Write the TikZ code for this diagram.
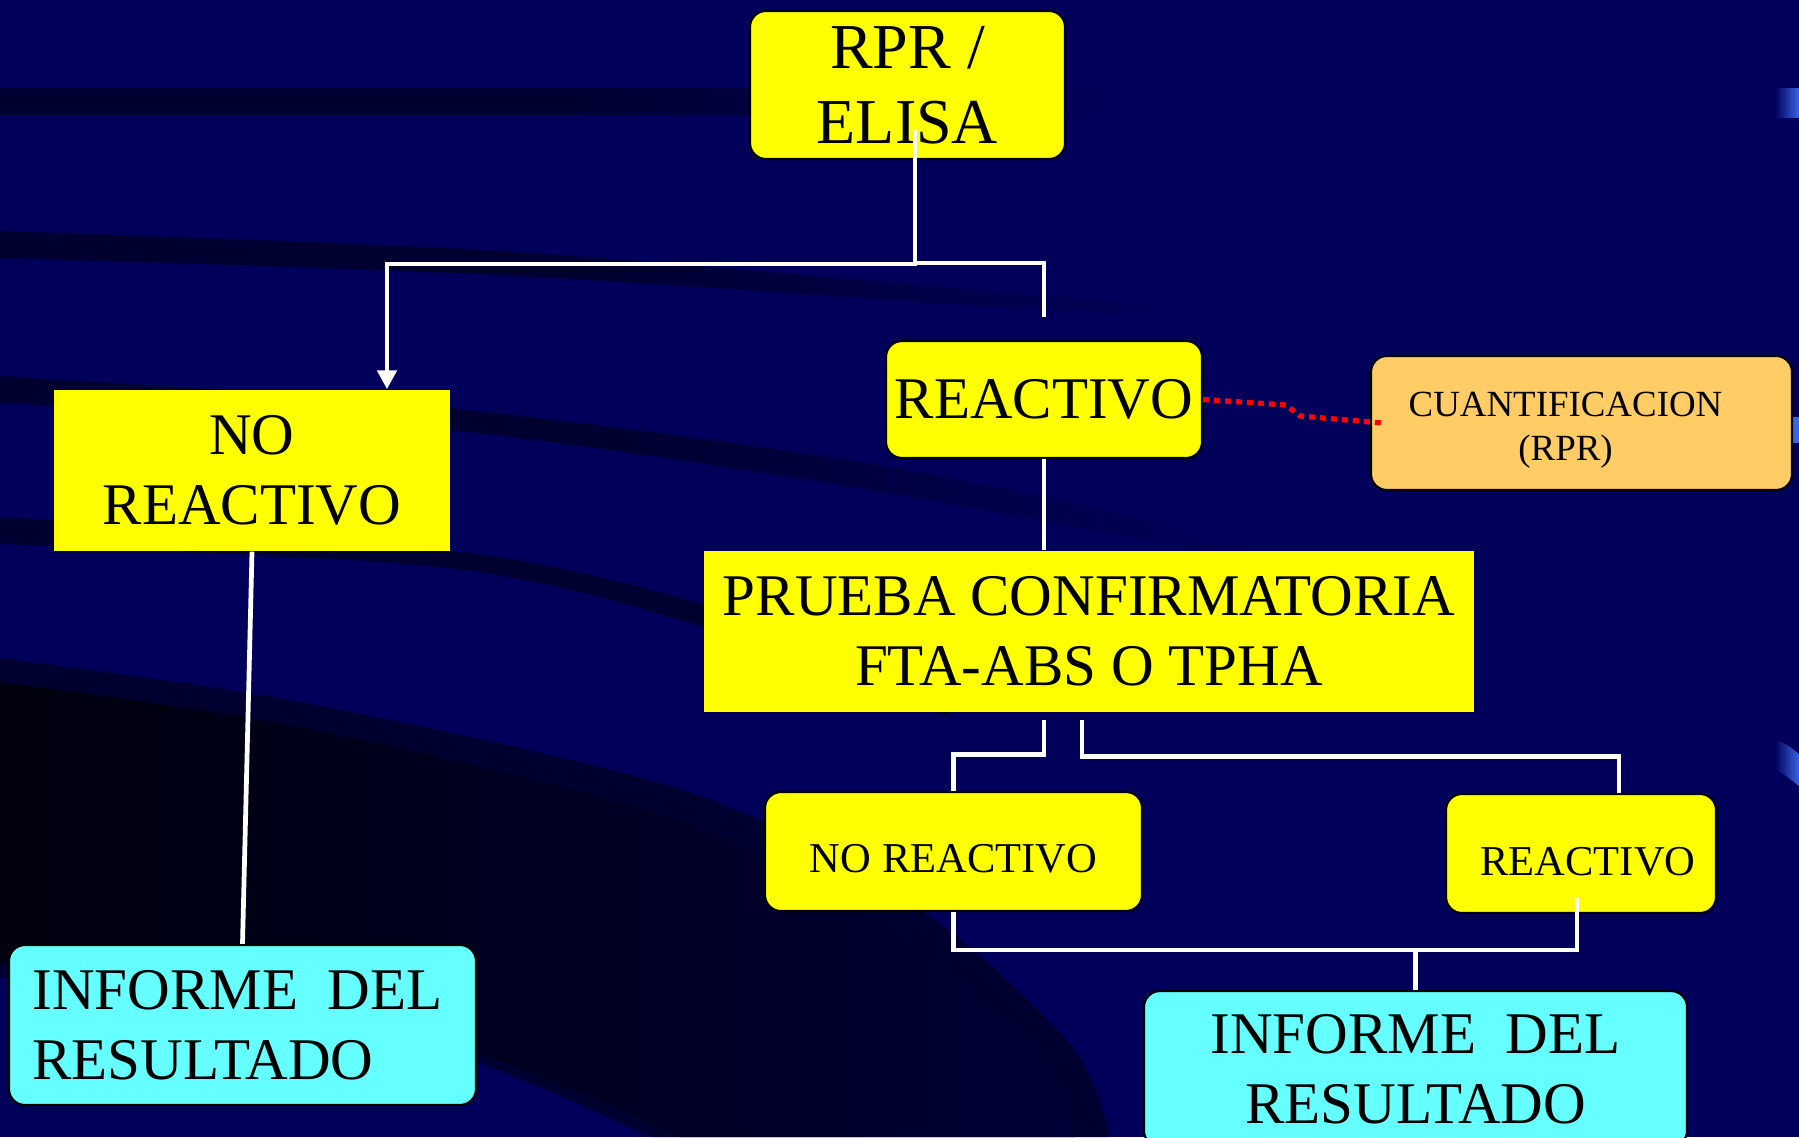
\documentclass[tikz,border=0pt]{standalone}
\usepackage{fontspec}
\setmainfont{Liberation Serif}
\usetikzlibrary{arrows.meta, positioning, calc}
\definecolor{slideBg}{RGB}{0, 0, 90}
\definecolor{slideBand}{RGB}{0, 0, 48}
\definecolor{slideDeep}{RGB}{0, 0, 30}
\definecolor{slideBlue}{RGB}{60, 100, 230}
\definecolor{boxYellow}{RGB}{255, 255, 0}
\definecolor{boxCyan}{RGB}{102, 255, 255}
\definecolor{boxOrange}{RGB}{255, 204, 102}
\newcommand{\slideRpr}{\fontsize{18.2}{21.3}\selectfont}
\newcommand{\slideBig}{\fontsize{16.8}{19.9}\selectfont}
\newcommand{\slideSmall}{\fontsize{12.1}{14}\selectfont}
\newcommand{\slideCuant}{\fontsize{10.5}{12.6}\selectfont}

\begin{document}
\begin{tikzpicture}[
        slidebox/.style={inner sep=0pt, align=center, text=black},
        roundbox/.style={slidebox, draw=black, line width=0.6pt, rounded corners=0.16cm},
        flowline/.style={draw=white, line width=1.35pt},
        cuantline/.style={draw=red, line width=1.5pt, dash pattern=on 0.06cm off 0.05cm}
    ]
        \useasboundingbox (0,0) rectangle (17.99,11.37);
        \clip (0,0) rectangle (17.99,11.37);

        % Slide background
        \fill[slideBg] (0,0) rectangle (17.99,11.37);
        \shade[left color=slideBand, right color=slideBg, middle color=slideBand]
            (0,10.22) rectangle (11.5,10.48);
        \shade[left color=slideBand, right color=slideBg, middle color=slideBand]
            plot[smooth] coordinates {(0,9.06) (5,8.86) (10,8.45) (12,8.3)}
            -- plot[smooth] coordinates {(12,8.2) (10,8.3) (5,8.62) (0,8.79)} -- cycle;
        \shade[left color=slideBand, right color=slideBg, middle color=slideBand]
            plot[smooth] coordinates {(0,7.61) (4.49,7.29) (8.84,6.71) (12.5,5.95)}
            -- plot[smooth] coordinates {(12.5,5.75) (8.84,6.45) (4.49,7.07) (0,7.34)} -- cycle;
        \fill[slideBand]
            plot[smooth] coordinates {(0,6.20) (4.49,5.87) (7.01,5.33) (9.5,4.4)}
            -- plot[smooth] coordinates {(9.5,4.2) (7.01,5.11) (4.49,5.69) (0,5.93)} -- cycle;
        \fill[slideBand]
            plot[smooth] coordinates {(0,4.79) (3.06,4.34) (6.89,3.45) (9.18,2.29) (10.71,0.92) (11.10,0)}
            -- plot[smooth] coordinates {(6.5,0) (4,1.0) (0,1.6)} -- cycle;
        \shade[left color=slideDeep!45!black, right color=slideDeep!60!slideBg]
            plot[smooth] coordinates {(0,4.55) (3.0,4.1) (6.7,3.2) (8.9,2.1) (10.4,0.8) (10.75,0)}
            -- plot[smooth] coordinates {(6.8,0) (4,1.1) (0,1.75)} -- cycle;
        \shade[left color=slideBg, right color=slideBlue] (17.75,10.19) rectangle (17.99,10.48);
        \fill[slideBlue] (17.9,6.94) rectangle (17.99,7.20);
        \shade[left color=slideBg, right color=slideBlue]
            (17.75,3.97) .. controls (17.85,3.94) .. (17.99,3.83) -- (17.99,3.51)
            .. controls (17.85,3.62) .. (17.75,3.68) -- cycle;

        % Boxes
        \node[roundbox, font=\slideRpr, fill=boxYellow, minimum width=3.15cm, minimum height=1.48cm]
            (rpr) at (9.075,10.52) {RPR /\\ELISA};
        \node[slidebox, font=\slideBig, fill=boxYellow, minimum width=3.96cm, minimum height=1.61cm]
            (noreac) at (2.52,6.665) {NO\\REACTIVO};
        \node[roundbox, font=\slideBig, fill=boxYellow, minimum width=3.16cm, minimum height=1.17cm]
            (reac) at (10.44,7.375) {REACTIVO};
        \node[roundbox, font=\slideCuant, fill=boxOrange, minimum width=4.21cm, minimum height=1.34cm,
            text height=0.82cm, text depth=0.07cm]
            (cuant) at (15.815,7.14) {CUANTIFICACION\hspace*{0.32cm}\\(RPR)\hspace*{0.32cm}};
        \node[slidebox, font=\slideBig, fill=boxYellow, minimum width=7.70cm, minimum height=1.61cm]
            (prueba) at (10.89,5.055) {PRUEBA CONFIRMATORIA\\FTA-ABS O TPHA};
        \node[roundbox, font=\slideSmall, fill=boxYellow, minimum width=3.77cm, minimum height=1.19cm, text height=0.42cm]
            (noreac2) at (9.535,2.855) {NO REACTIVO};
        \node[roundbox, font=\slideSmall, fill=boxYellow, minimum width=2.70cm, minimum height=1.19cm, text height=0.45cm]
            (reac2) at (15.81,2.835) {\hspace*{0.14cm}REACTIVO};
        \node[roundbox, font=\slideBig, fill=boxCyan, align=left, minimum width=4.67cm, minimum height=1.60cm]
            (inf1) at (2.425,1.12) {INFORME\ \ DEL\hspace*{0.1cm}\\RESULTADO};
        \node[roundbox, font=\slideBig, fill=boxCyan, minimum width=5.43cm, inner ysep=0.23cm, anchor=north]
            (inf2) at (14.155,1.47) {INFORME\ \ DEL\\RESULTADO};

        % First split
        \draw[flowline, -{Triangle[width=0.19cm, length=0.19cm]}]
            ([xshift=0.075cm, yshift=0.31cm]rpr.south) -- ++(0,-1.35) -| ([xshift=1.35cm]noreac.north);
        \coordinate (rfork) at (9.15,8.74);
        \draw[flowline] (rfork) -| ([yshift=0.23cm]reac.north);
        \draw[flowline] (reac.south) -- (reac.south |- prueba.north);
        \draw[flowline] (noreac.south) -- (inf1.north);
        \draw[cuantline] (reac.east) -- (12.86,7.32) -- (13.0,7.21) -- ([xshift=0.12cm]cuant.west);

        % Confirmation split
        \draw[flowline] ([xshift=-0.45cm, yshift=-0.07cm]prueba.south) -- ++(0,-0.35) -| (noreac2.north);
        \draw[flowline] ([xshift=-0.07cm, yshift=-0.07cm]prueba.south) -- ++(0,-0.37) -| ([xshift=0.38cm]reac2.north);
        \coordinate (merge) at ([yshift=0.40cm]inf2.north);
        \draw[flowline] (noreac2.south) |- (merge);
        \draw[flowline] ([xshift=-0.04cm, yshift=0.16cm]reac2.south) |- (merge);
        \draw[flowline] (merge) -- (inf2.north);
    \end{tikzpicture}
\end{document}
